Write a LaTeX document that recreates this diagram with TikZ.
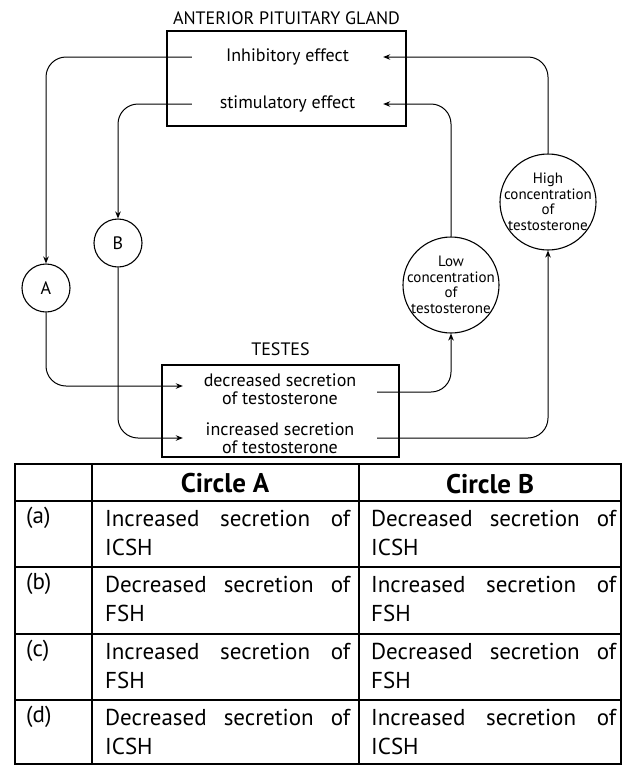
\documentclass[tikz,border=0pt]{standalone}
\usepackage{fontspec}
\setmainfont{PT Sans}
\usetikzlibrary{arrows.meta, positioning}
\newcommand{\secrof}[2]{\hbox to\hsize{#1\hfill secretion\hfill of}\\#2}

\begin{document}
\begin{tikzpicture}[x=1pt, y=-1pt,
      gland/.style={rectangle, draw, line width=1.3pt, inner sep=0pt},
      title/.style={font=\fontsize{18}{18}\selectfont},
      effect/.style={align=center, inner sep=0pt, font=\fontsize{18}{18}\selectfont},
      hormone/.style={circle, draw, line width=1.1pt, minimum size=48pt, inner sep=0pt,
                      font=\fontsize{18}{18}\selectfont},
      level/.style={circle, draw, line width=1.1pt, minimum size=96pt, inner sep=0pt},
      leveltext/.style={align=center, inner sep=0pt, font=\fontsize{15}{15.5}\selectfont},
      link/.style={-{Stealth[length=7pt, width=5.5pt]}, line width=1pt, rounded corners=20pt},
      grid/.style={line width=1.2pt},
      head/.style={font=\fontsize{27}{27}\selectfont\bfseries},
      opt/.style={anchor=north west, inner sep=0pt, font=\fontsize{23}{29}\selectfont},
      cell/.style={anchor=north west, inner sep=0pt, text width=245pt, align=left,
                   font=\fontsize{23}{29}\selectfont}]
    \useasboundingbox (0,0) rectangle (626,766);
    \node[gland, minimum width=239pt, minimum height=95pt] (pit) at (286.5,78.5) {};
    \node[title, above=2.5pt of pit] (pittitle) {ANTERIOR PITUITARY GLAND};
    \node[effect, minimum width=191pt] (inh) at (287.5,57) {Inhibitory effect};
    \node[effect, minimum width=191pt] (stim) at (287.5,104) {stimulatory effect};
    \node[hormone] (A) at (46,288) {A};
    \node[hormone] (B) at (118,243) {B};
    \node[level] (low) at (451,285) {};
    \node[leveltext] (lowtext) at (low) {Low\\concentration\\of\\testosterone};
    \node[level] (high) at (548,202) {};
    \node[leveltext] (hightext) at (high) {High\\concentration\\of\\testosterone};
    \node[gland, minimum width=237pt, minimum height=92pt] (testes) at (280.5,411) {};
    \node[title, above=5.5pt of testes] (testtitle) {TESTES};
    \node[effect, minimum width=194pt] (dec) at (280,389) {decreased secretion\\of testosterone};
    \node[effect, minimum width=194pt] (inc) at (280,438) {increased secretion\\of testosterone};
    \draw[link] (inh.west) -| (A.north);
    \draw[link] (stim.west) -| (B.north);
    \draw[link] (A.south) |- ([yshift=3pt]dec.west);
    \draw[link] (B.south) |- (inc.west);
    \draw[link] ([yshift=-3pt]dec.east) -| (low.south);
    \draw[link] (inc.east) -| (high.south);
    \draw[link] (low.north) |- (stim.east);
    \draw[link] (high.north) |- (inh.east);
    \draw[grid] (15,464) rectangle (621,764);
    \foreach \y in {501,567,634,700}
      \draw[grid] (15,\y) -- (621,\y);
    \draw[grid] (92,464) -- (92,764);
    \draw[grid] (359,464) -- (359,764);
    \node[head] (ha) at (225,483) {Circle A};
    \node[head] (hb) at (490,484) {Circle B};
    \node[opt] (oa) at (26,507) {(a)};
    \node[cell] (a1) at (105,510) {\secrof{Increased}{ICSH}};
    \node[cell] (a2) at (371,510) {\secrof{Decreased}{ICSH}};
    \node[opt] (ob) at (26,573) {(b)};
    \node[cell] (b1) at (105,576) {\secrof{Decreased}{FSH}};
    \node[cell] (b2) at (371,576) {\secrof{Increased}{FSH}};
    \node[opt] (oc) at (26,640) {(c)};
    \node[cell] (c1) at (105,643) {\secrof{Increased}{FSH}};
    \node[cell] (c2) at (371,643) {\secrof{Decreased}{FSH}};
    \node[opt] (od) at (26,706) {(d)};
    \node[cell] (d1) at (105,709) {\secrof{Decreased}{ICSH}};
    \node[cell] (d2) at (371,709) {\secrof{Increased}{ICSH}};
  \end{tikzpicture}
\end{document}
